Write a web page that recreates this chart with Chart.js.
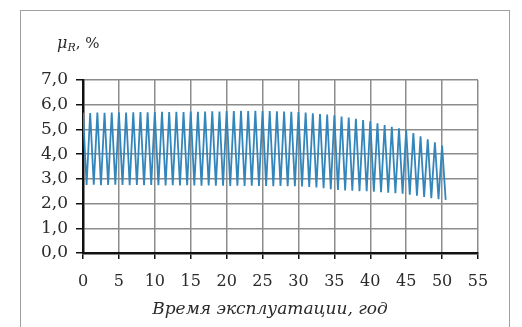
<!DOCTYPE html>
<html>
<head>
<meta charset="utf-8">
<script src="https://cdn.jsdelivr.net/npm/chart.js@4/dist/chart.umd.min.js"></script>
<style>
  html, body { margin: 0; padding: 0; background: #fff; }
  #wrap { position: relative; width: 522px; height: 327px; overflow: hidden; }
  #frame {
    position: absolute; left: 20px; top: 10px; width: 488px; height: 340px;
    border: 1.5px solid #a0a0a0;
  }
  canvas { position: absolute; left: 0; top: 0; }
</style>
</head>
<body>
<div id="wrap">
  <div id="frame"></div>
  <canvas id="chart" width="522" height="327"></canvas>
</div>
<script>
// годы эксплуатации: максимумы (целые годы) и минимумы (полугодия)
const peakYears = [0, 1, 2, 3, 4, 5, 6, 7, 8, 9, 10, 11, 12, 13, 14, 15, 16, 17, 18, 19, 20,
  21, 22, 23, 24, 25, 26, 27, 28, 29, 30, 31, 32, 33, 34, 35, 36, 37, 38, 39, 40,
  41, 42, 43, 44, 45, 46, 47, 48, 49, 50];
const peakValues = [5.68, 5.66, 5.68, 5.67, 5.68, 5.69, 5.68, 5.69, 5.7, 5.69, 5.7,
  5.71, 5.7, 5.71, 5.7, 5.72, 5.71, 5.72, 5.73, 5.72, 5.74, 5.74, 5.75, 5.74, 5.75, 5.74,
  5.74, 5.73, 5.72, 5.71, 5.7, 5.68, 5.65, 5.62, 5.6, 5.57, 5.52, 5.48, 5.43, 5.38, 5.33,
  5.25, 5.18, 5.11, 5.05, 4.98, 4.85, 4.72, 4.6, 4.48, 4.35];
const troughYears = [0.5, 1.5, 2.5, 3.5, 4.5, 5.5, 6.5, 7.5, 8.5, 9.5, 10.5, 11.5, 12.5,
  13.5, 14.5, 15.5, 16.5, 17.5, 18.5, 19.5, 20.5, 21.5, 22.5, 23.5, 24.5, 25.5, 26.5,
  27.5, 28.5, 29.5, 30.5, 31.5, 32.5, 33.5, 34.5, 35.5, 36.5, 37.5, 38.5, 39.5, 40.5,
  41.5, 42.5, 43.5, 44.5, 45.5, 46.5, 47.5, 48.5, 49.5, 50.5];
const troughValues = [2.75, 2.76, 2.74, 2.75, 2.76, 2.75, 2.74, 2.75, 2.74, 2.75, 2.74,
  2.73, 2.74, 2.73, 2.74, 2.73, 2.72, 2.73, 2.72, 2.72, 2.71, 2.72, 2.71, 2.72, 2.71,
  2.71, 2.7, 2.71, 2.7, 2.7, 2.69, 2.67, 2.65, 2.62, 2.58, 2.55, 2.53, 2.52, 2.5, 2.5,
  2.48, 2.46, 2.44, 2.42, 2.4, 2.36, 2.32, 2.27, 2.22, 2.18, 2.15];

const xTicks = [0, 5, 10, 15, 20, 25, 30, 35, 40, 45, 50, 55];
const yTicks = [0, 1, 2, 3, 4, 5, 6, 7];

const xTitle = "Время эксплуатации, год";

// чередуем максимумы и минимумы
const points = [];
for (let i = 0; i < peakYears.length; i++) {
  points.push({ x: peakYears[i], y: peakValues[i] });
  if (i < troughYears.length) {
    points.push({ x: troughYears[i], y: troughValues[i] });
  }
}

const serif = "'DejaVu Serif', 'Liberation Serif', serif";

const titlesPlugin = {
  id: "titles",
  afterDraw(chart) {
    const ctx = chart.ctx;
    ctx.save();
    ctx.fillStyle = "#2a2a2a";
    ctx.textBaseline = "alphabetic";
    // μR, %
    ctx.font = "italic 16px " + serif;
    ctx.fillText("μ", 57, 48);
    let w = ctx.measureText("μ").width;
    ctx.font = "italic 11px " + serif;
    ctx.fillText("R", 57 + w, 51);
    let w2 = ctx.measureText("R").width;
    ctx.font = "15px " + serif;
    ctx.fillText(", %", 57 + w + w2, 48);
    // подпись оси X
    ctx.font = "italic 17px " + serif;
    ctx.textAlign = "center";
    ctx.fillText(xTitle, 270, 314);
    ctx.restore();
  },
};

new Chart(document.getElementById("chart"), {
  type: "line",
  data: {
    datasets: [
      {
        data: points,
        borderColor: "#3386bb",
        borderWidth: 1.8,
        pointRadius: 0,
        tension: 0,
        fill: false,
      },
    ],
  },
  options: {
    responsive: false,
    animation: false,
    layout: { padding: { top: 80, right: 44, left: 0, bottom: 0 } },
    plugins: { legend: { display: false }, tooltip: { enabled: false } },
    scales: {
      x: {
        type: "linear",
        min: 0,
        max: 55,
        afterBuildTicks(scale) {
          scale.ticks = xTicks.map((v) => ({ value: v }));
        },
        afterFit(scale) {
          scale.height = 74;
        },
        grid: { color: "#8c8c8c", lineWidth: 1.5, tickColor: "#111", tickLength: 6 },
        border: { color: "#111", width: 2.5 },
        ticks: {
          color: "#2a2a2a",
          font: { family: serif, size: 16 },
          padding: 13,
          maxRotation: 0,
          autoSkip: false,
        },
      },
      y: {
        min: 0,
        max: 7,
        afterBuildTicks(scale) {
          scale.ticks = yTicks.map((v) => ({ value: v }));
        },
        afterFit(scale) {
          scale.width = 83;
        },
        grid: { color: "#8c8c8c", lineWidth: 1.5, tickColor: "#111", tickLength: 7 },
        border: { color: "#111", width: 2.5 },
        ticks: {
          color: "#2a2a2a",
          font: { family: serif, size: 17 },
          padding: 8,
          callback: (v) => v.toFixed(1).replace(".", ","),
        },
      },
    },
  },
  plugins: [titlesPlugin],
});
</script>
</body>
</html>
